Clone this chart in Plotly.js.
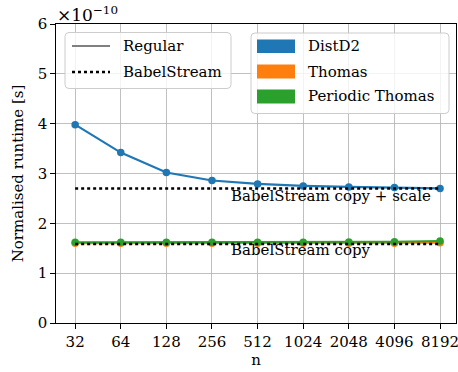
<!DOCTYPE html>
<html>
<head>
<meta charset="utf-8">
<script src="https://cdn.plot.ly/plotly-3.0.1.min.js"></script>
<style>html,body{margin:0;padding:0;background:#fff;}#chart{width:458px;height:372px;}</style>
</head>
<body>
<div id="chart"></div>
<script>
// Data (runtime in units of 1e-10 s)
const nLabels = ['32', '64', '128', '256', '512', '1024', '2048', '4096', '8192'];
const distD2 = [3.98, 3.42, 3.02, 2.86, 2.79, 2.75, 2.73, 2.72, 2.70];
const thomas = [1.60, 1.60, 1.60, 1.60, 1.60, 1.60, 1.60, 1.60, 1.61];
const periodicThomas = [1.62, 1.62, 1.62, 1.62, 1.62, 1.62, 1.625, 1.63, 1.645];
const babelCopy = 1.585;
const babelCopyScale = 2.70;
const yTickVals = [0, 1, 2, 3, 4, 5, 6];

const FONT = "DejaVu Serif";
const FS = 15;
const colors = {distD2: '#1f77b4', thomas: '#ff7f0e', periodic: '#2ca02c'};

// plot area in pixels
const L = 56, R = 456, T = 24, B = 323, W = 458, H = 372;
const px = v => (v - L) / (R - L);
const py = v => (B - v) / (B - T);

function roundRect(x0, y0, x1, y1, r) {
  const X0 = px(x0), X1 = px(x1), Y0 = py(y0), Y1 = py(y1);
  const rx = r / (R - L), ry = r / (B - T);
  return `M${X0 + rx},${Y0} L${X1 - rx},${Y0} Q${X1},${Y0} ${X1},${Y0 - ry} ` +
         `L${X1},${Y1 + ry} Q${X1},${Y1} ${X1 - rx},${Y1} L${X0 + rx},${Y1} ` +
         `Q${X0},${Y1} ${X0},${Y1 + ry} L${X0},${Y0 - ry} Q${X0},${Y0} ${X0 + rx},${Y0} Z`;
}

const xEnds = [nLabels[0], nLabels[nLabels.length - 1]];
const traces = [
  {x: nLabels, y: distD2, type: 'scatter', mode: 'lines+markers', name: 'DistD2',
   line: {color: colors.distD2, width: 2.2}, marker: {color: colors.distD2, size: 7.5}},
  {x: nLabels, y: thomas, type: 'scatter', mode: 'lines+markers', name: 'Thomas',
   line: {color: colors.thomas, width: 2.2}, marker: {color: colors.thomas, size: 7.5}},
  {x: nLabels, y: periodicThomas, type: 'scatter', mode: 'lines+markers', name: 'Periodic Thomas',
   line: {color: colors.periodic, width: 2.2}, marker: {color: colors.periodic, size: 7.5}},
  {x: xEnds, y: [babelCopyScale, babelCopyScale], type: 'scatter', mode: 'lines',
   name: 'BabelStream copy + scale', line: {color: '#000', width: 2.5, dash: 'dot'}},
  {x: xEnds, y: [babelCopy, babelCopy], type: 'scatter', mode: 'lines',
   name: 'BabelStream copy', line: {color: '#000', width: 2.5, dash: 'dot'}}
];

const legendBoxStyle = {line: {color: '#cccccc', width: 1}, fillcolor: 'rgba(255,255,255,0.8)'};
const shapes = [
  Object.assign({type: 'path', xref: 'paper', yref: 'paper', layer: 'above',
    path: roundRect(65, 32.5, 231, 88.5, 4)}, legendBoxStyle),
  Object.assign({type: 'path', xref: 'paper', yref: 'paper', layer: 'above',
    path: roundRect(251, 33, 449, 113.5, 4)}, legendBoxStyle),
  {type: 'line', xref: 'paper', yref: 'paper', layer: 'above', x0: px(72), x1: px(110), y0: py(46), y1: py(46),
   line: {color: '#808080', width: 2.2}},
  {type: 'line', xref: 'paper', yref: 'paper', layer: 'above', x0: px(72), x1: px(110), y0: py(72), y1: py(72),
   line: {color: '#000', width: 2.5, dash: 'dot'}},
  {type: 'rect', xref: 'paper', yref: 'paper', layer: 'above', x0: px(257), x1: px(295), y0: py(39.5), y1: py(53),
   fillcolor: colors.distD2, line: {width: 0}},
  {type: 'rect', xref: 'paper', yref: 'paper', layer: 'above', x0: px(257), x1: px(295), y0: py(64.5), y1: py(78.5),
   fillcolor: colors.thomas, line: {width: 0}},
  {type: 'rect', xref: 'paper', yref: 'paper', layer: 'above', x0: px(257), x1: px(295), y0: py(89.5), y1: py(103.5),
   fillcolor: colors.periodic, line: {width: 0}}
];

const tf = {family: FONT, size: FS, color: '#000'};
const legendText = (text, x, y) => ({text, xref: 'paper', yref: 'paper', x: px(x), y: py(y),
  xanchor: 'left', yanchor: 'middle', showarrow: false, font: tf});
const annotations = [
  legendText('Regular', 121, 46),
  legendText('BabelStream', 121, 72),
  legendText('DistD2', 306, 46),
  legendText('Thomas', 306, 71.5),
  legendText('Periodic Thomas', 306, 96.5),
  {text: 'BabelStream copy + scale', xref: 'x', yref: 'y', x: 3.38, y: babelCopyScale - 0.15,
   xanchor: 'left', yanchor: 'middle', showarrow: false, font: tf},
  {text: 'BabelStream copy', xref: 'x', yref: 'y', x: 3.38, y: babelCopy - 0.12,
   xanchor: 'left', yanchor: 'middle', showarrow: false, font: tf},
  {text: '×10<sup>−10</sup>', xref: 'paper', yref: 'paper', x: px(55), y: py(14),
   xanchor: 'left', yanchor: 'middle', showarrow: false, font: {family: FONT, size: 17, color: '#000'}}
];

const axisCommon = {
  showgrid: true, gridcolor: '#b0b0b0', gridwidth: 0.8,
  showline: true, mirror: true, linecolor: '#000', linewidth: 1.2,
  ticks: 'outside', ticklen: 4.5, tickwidth: 1, tickcolor: '#000',
  tickfont: tf, zeroline: false
};

const layout = {
  width: W, height: H,
  margin: {l: L, r: W - R, t: T, b: H - B},
  paper_bgcolor: '#fff', plot_bgcolor: '#fff',
  showlegend: false,
  font: tf,
  xaxis: Object.assign({}, axisCommon, {
    type: 'category', range: [-0.42, 8.35],
    title: {text: 'n', font: tf, standoff: 2}
  }),
  yaxis: Object.assign({}, axisCommon, {
    range: [0, 6], tickvals: yTickVals, ticktext: yTickVals.map(String),
    title: {text: 'Normalised runtime [s]', font: tf, standoff: 10}
  }),
  shapes, annotations
};

Plotly.newPlot('chart', traces, layout, {staticPlot: true, displayModeBar: false});
</script>
</body>
</html>
